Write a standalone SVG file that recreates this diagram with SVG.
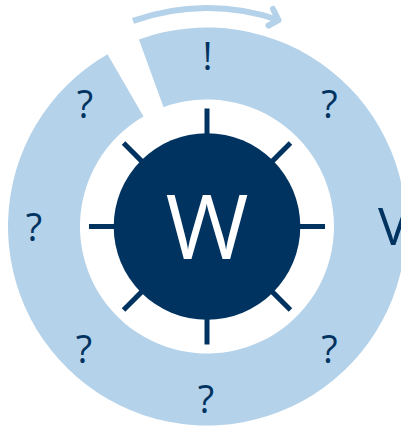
<svg xmlns="http://www.w3.org/2000/svg" width="401" height="426" viewBox="0 0 401 426">
<style>
.lbl{font-family:"Open Sans","Noto Sans","DejaVu Sans",sans-serif;fill:#003360;text-anchor:middle;font-size:38px}
.tick{stroke:#003360;stroke-width:5;fill:none}
</style>
<rect width="401" height="426" fill="#ffffff"/>
<g id="ring">
<path d="M 138.94 39.50 A 199 199 0 1 1 107.5 54.16 L 143.5 116.51 A 127 127 0 1 0 163.56 107.16 Z" fill="#b4d2ea"/>
</g>
<g id="connectors">
<path d="M 133 20.9 A 218.5 218.5 0 0 1 278.5 20" fill="none" stroke="#b4d2ea" stroke-width="6"/>
<path d="M 273 9 L 278.5 20 L 268.5 25.5" fill="none" stroke="#b4d2ea" stroke-width="6" stroke-linecap="round" stroke-linejoin="round"/>
</g>
<g id="ticks">
<line class="tick" x1="297" y1="226.5" x2="325" y2="226.5"/>
<line class="tick" x1="207" y1="316.5" x2="207" y2="344.5"/>
<line class="tick" x1="117" y1="226.5" x2="89" y2="226.5"/>
<line class="tick" x1="207" y1="136.5" x2="207" y2="108.5"/>
<line class="tick" x1="270.64" y1="290.14" x2="290.44" y2="309.94"/>
<line class="tick" x1="143.36" y1="290.14" x2="123.56" y2="309.94"/>
<line class="tick" x1="143.36" y1="162.86" x2="123.56" y2="143.06"/>
<line class="tick" x1="270.64" y1="162.86" x2="290.44" y2="143.06"/>
</g>
<g id="center">
<circle cx="207" cy="226.5" r="93.3" fill="#003360"/>
<text x="207" y="259" class="lbl" style="fill:#ffffff;font-size:90px">W</text>
</g>
<g id="labels">
<text class="lbl" x="207.5" y="70">!</text>
<text class="lbl" x="85" y="118">?</text>
<text class="lbl" x="329.5" y="118">?</text>
<text class="lbl" x="34" y="241">?</text>
<text class="lbl" x="84" y="363">?</text>
<text class="lbl" x="329.5" y="363">?</text>
<text class="lbl" x="206" y="413">?</text>
<text class="lbl" x="378" y="245" style="text-anchor:start;font-size:51px">V</text>
</g>
</svg>
